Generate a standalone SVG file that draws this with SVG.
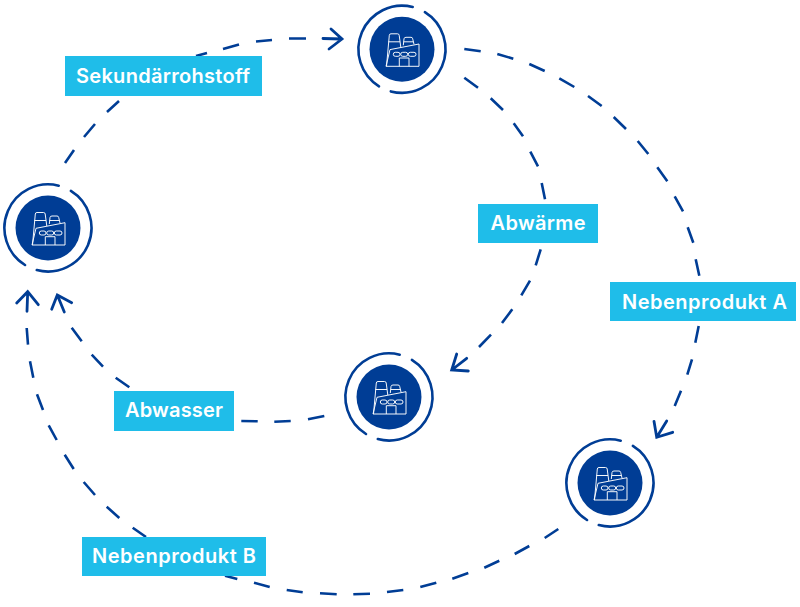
<svg xmlns="http://www.w3.org/2000/svg" width="800" height="607" viewBox="0 0 800 607">
<style>
.ring{fill:none;stroke:#003d95;stroke-width:2.6;stroke-linecap:round}
.disc{fill:#003d95}
.ico{fill:none;stroke:#fff;stroke-width:.95;stroke-linejoin:round}
.c{fill:none;stroke:#003d95;stroke-width:2.6;stroke-linecap:butt}
.a{fill:none;stroke:#003d95;stroke-width:2.8;stroke-linecap:round;stroke-linejoin:miter}
.box{fill:#1fbde9}
.t{font-family:"Inter","Liberation Sans",sans-serif;font-weight:600;font-size:20px;fill:#fff;text-anchor:middle}
</style>
<defs>
<g id="n">
<path class="ring" d="M-23 37A43.6 43.6 0 0 1 10.7-42.3"/>
<path class="ring" d="M22.9-37.1A43.6 43.6 0 0 1-11.2 42.1"/>
<circle class="disc" r="32.5"/>
<path class="ico" d="M-15.5 17L-12.7-14Q-12.6-15.5-11-15.5H-4.5Q-3-15.5-2.8-14L-1.2-2M-13.6-7.5H-2M1.3-4L2-10.5Q2.2-12 4-12H9Q10.5-12 10.7-10.5L12-5M1.6-7.5H11.3M-12 .3L17-5.3V17H-16L-12 .3ZM-2.7 17V8.7H7V17M-8.7 5a2 2 0 0 1 2-2h2.7a2 2 0 0 1 0 4h-2.7a2 2 0 0 1-2-2ZM-1.3 5a2 2 0 0 1 2-2h3a2 2 0 0 1 0 4h-3a2 2 0 0 1-2-2ZM6.3 5a2 2 0 0 1 2-2h3.7a2 2 0 0 1 0 4h-3.7a2 2 0 0 1-2-2Z"/>
</g>
</defs>
<g id="connectors">
<path class="c" d="M65 163L74 150M84 137L95 124M107 112L119 101M196 56L207 53M223 49L239 44.5M256 41.5L272 40M289 38.5H306"/>
<path class="a" d="M323 38.5L342 39M331 29L342 39L329 49"/>
<path class="c" d="M464.3 49L480.7 51.3M497.3 54L513.3 58.7M529.3 64L544.7 71M559.3 78.3L574.3 87M588 96L601.7 106M613.7 117L626 129M637.7 141L648.3 154M657.3 167.3L667.3 181.3M674.7 196.3L683 211.3M687.7 227.3L693.3 242.7M695.7 259.3L699.3 275.7M698.7 326L695.3 342.7M692 359.3L687.3 374.7M681 390.7L674.7 406"/>
<path class="a" d="M666.7 421L656.7 437.3M654 421.3L656.7 437.3L672.7 432.3"/>
<path class="c" d="M464.3 77.7L478 87.7M490.7 98.3L503 110M513.7 123.3L523 136.3M530.3 151.7L538 166.3M541.7 183L545 199.3M540.7 249.3L535.7 265.3M530 280.7L521.3 295.3M512.3 309.3L502 323M491 334.7L479 347"/>
<path class="a" d="M466.7 358.3L451.7 370M456.7 354L451.7 370L468.3 371"/>
<path class="c" d="M324.3 416L308 419.3M290.7 421L274.3 421.7M257.7 421.3L241.3 421M129.3 387.3L115.7 377.7M103 366.7L91.7 354.7M81.7 341.3L71.7 327.7"/>
<path class="a" d="M64.3 312L57.3 295M51.7 309.3L57.3 295L71.7 302.7"/>
<path class="c" d="M558.3 529L544.7 538M529.3 546L514.7 554M499.3 560.7L484.3 567.7M468.3 573L452.3 578.7M436.3 582.7L420.3 587M403.3 590L387 592M370 593.7L353.3 594.3M336.7 594.3L320 593.3M302.7 592.3L286.7 590M269.7 587L254 582.7M237.3 579L225 575.7M146 537L132.7 527.7M119.3 518L106.7 506.7M95 495L83.7 482M73.7 469L64.7 454.7M56.7 440L48.7 425.3M43 410L37 394.3M33.3 377.7L30 361.3M28 344.7L26.7 328"/>
<path class="a" d="M27 311.3L27.7 291.7M16.7 303L27.7 291.7L38.3 304.7"/>
</g>
<g id="node-top"><use href="#n" x="402" y="49.3"/></g>
<g id="node-left"><use href="#n" x="48" y="228"/></g>
<g id="node-mid"><use href="#n" x="389" y="397"/></g>
<g id="node-right"><use href="#n" x="610" y="483"/></g>
<g id="label-sek"><rect class="box" x="65" y="56" width="197" height="40"/><text class="t" x="163" y="83" textLength="174">Sekundärrohstoff</text></g>
<g id="label-abw"><rect class="box" x="478" y="204" width="120" height="39"/><text class="t" x="538" y="230" textLength="95">Abwärme</text></g>
<g id="label-nba"><rect class="box" x="610" y="282" width="186" height="39"/><text class="t" x="704.5" y="309" textLength="165">Nebenprodukt A</text></g>
<g id="label-was"><rect class="box" x="114" y="391" width="120" height="40"/><text class="t" x="174" y="417" textLength="98">Abwasser</text></g>
<g id="label-nbb"><rect class="box" x="82" y="537" width="184" height="39"/><text class="t" x="174" y="563" textLength="164">Nebenprodukt B</text></g>
</svg>
